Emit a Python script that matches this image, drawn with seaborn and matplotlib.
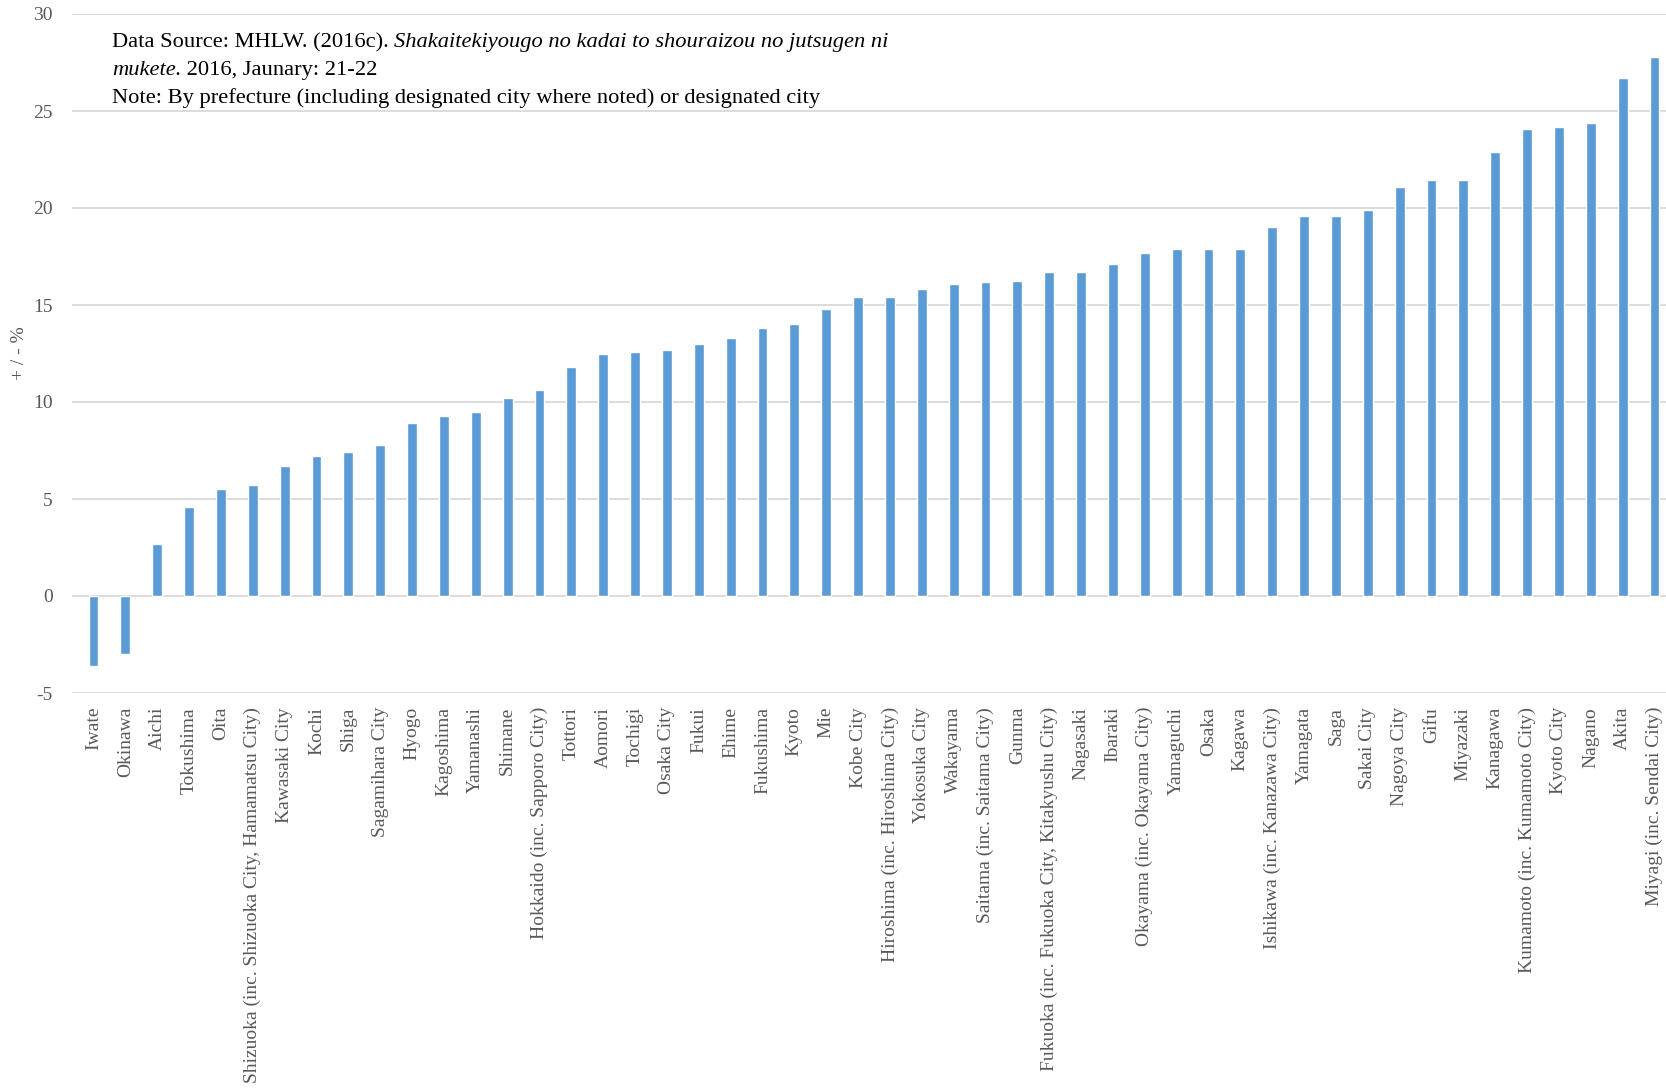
import matplotlib
matplotlib.use("Agg")
import matplotlib.pyplot as plt
import seaborn as sns
import pandas as pd

categories = [
    "Iwate", "Okinawa", "Aichi", "Tokushima", "Oita",
    "Shizuoka (inc. Shizuoka City, Hamamatsu City)", "Kawasaki City", "Kochi",
    "Shiga", "Sagamihara City", "Hyogo", "Kagoshima", "Yamanashi", "Shimane",
    "Hokkaido (inc. Sapporo City)", "Tottori", "Aomori", "Tochigi", "Osaka City",
    "Fukui", "Ehime", "Fukushima", "Kyoto", "Mie", "Kobe City",
    "Hiroshima (inc. Hiroshima City)", "Yokosuka City", "Wakayama",
    "Saitama (inc. Saitama City)", "Gunma",
    "Fukuoka (inc. Fukuoka City, Kitakyushu City)", "Nagasaki", "Ibaraki",
    "Okayama (inc. Okayama City)", "Yamaguchi", "Osaka", "Kagawa",
    "Ishikawa (inc. Kanazawa City)", "Yamagata", "Saga", "Sakai City",
    "Nagoya City", "Gifu", "Miyazaki", "Kanagawa",
    "Kumamoto (inc. Kumamoto City)", "Kyoto City", "Nagano", "Akita",
    "Miyagi (inc. Sendai City)",
]
change_pct = [
    -3.6, -3.0, 2.7, 4.6, 5.5, 5.7, 6.7, 7.2, 7.4, 7.8,
    8.9, 9.3, 9.5, 10.2, 10.6, 11.8, 12.5, 12.6, 12.7, 13.0,
    13.3, 13.8, 14.0, 14.8, 15.4, 15.4, 15.8, 16.1, 16.2, 16.25,
    16.7, 16.7, 17.1, 17.7, 17.9, 17.9, 17.9, 19.0, 19.6, 19.6,
    19.9, 21.1, 21.45, 21.45, 22.9, 24.05, 24.15, 24.4, 26.7, 27.8,
]
y_ticks = [-5, 0, 5, 10, 15, 20, 25, 30]

df = pd.DataFrame({"region": categories, "change": change_pct})

sns.set_theme(style="white")
plt.rcParams["font.family"] = ["Liberation Serif", "DejaVu Serif"]

W, H = 1666, 1090
fig = plt.figure(figsize=(W / 100, H / 100), dpi=100)
ax = fig.add_axes([72 / W, 1 - 693 / H, (W - 72) / W, (693 - 14) / H])

sns.barplot(data=df, x="region", y="change", order=categories,
            color="#5B9BD5", saturation=1, width=0.31, ax=ax, zorder=3)

ax.set_xlim(-0.675, 49.36)
ax.set_ylim(-5, 30)
ax.set_yticks(y_ticks)
ax.set_yticklabels([str(t) for t in y_ticks])
ax.yaxis.grid(True, color="#D9D9D9", linewidth=1.3, zorder=0)
ax.xaxis.grid(False)
for s in ax.spines.values():
    s.set_visible(False)

ax.tick_params(axis="y", length=0, pad=14, labelsize=14, labelcolor="#595959")
ax.tick_params(axis="x", length=0, pad=10, labelsize=14, labelcolor="#595959")
plt.setp(ax.get_xticklabels(), rotation=90)
ax.set_xlabel("")
ax.set_ylabel("+ / - %", fontsize=14, color="#595959")
ax.yaxis.set_label_coords(-0.0275, 0.5)

# Source note, with the title of the cited report in italics
fs = 16.2
x0 = 112 / W
t1 = fig.text(x0, 1 - 52 / H, "Data Source: MHLW. (2016c). ", fontsize=fs,
              ha="left", va="bottom", color="black")
ax.annotate("Shakaitekiyougo no kadai to shouraizou no jutsugen ni",
            xy=(1, 0), xycoords=t1, fontsize=fs, style="italic",
            ha="left", va="bottom", color="black")
t2 = fig.text(x0, 1 - 80 / H, "mukete.", fontsize=fs, style="italic",
              ha="left", va="bottom", color="black")
ax.annotate(" 2016, Jaunary: 21-22", xy=(1, 0), xycoords=t2, fontsize=fs,
            ha="left", va="bottom", color="black")
fig.text(x0, 1 - 108 / H,
         "Note: By prefecture (including designated city where noted) or designated city",
         fontsize=fs, ha="left", va="bottom", color="black")

fig.savefig("out.png", dpi=100)
